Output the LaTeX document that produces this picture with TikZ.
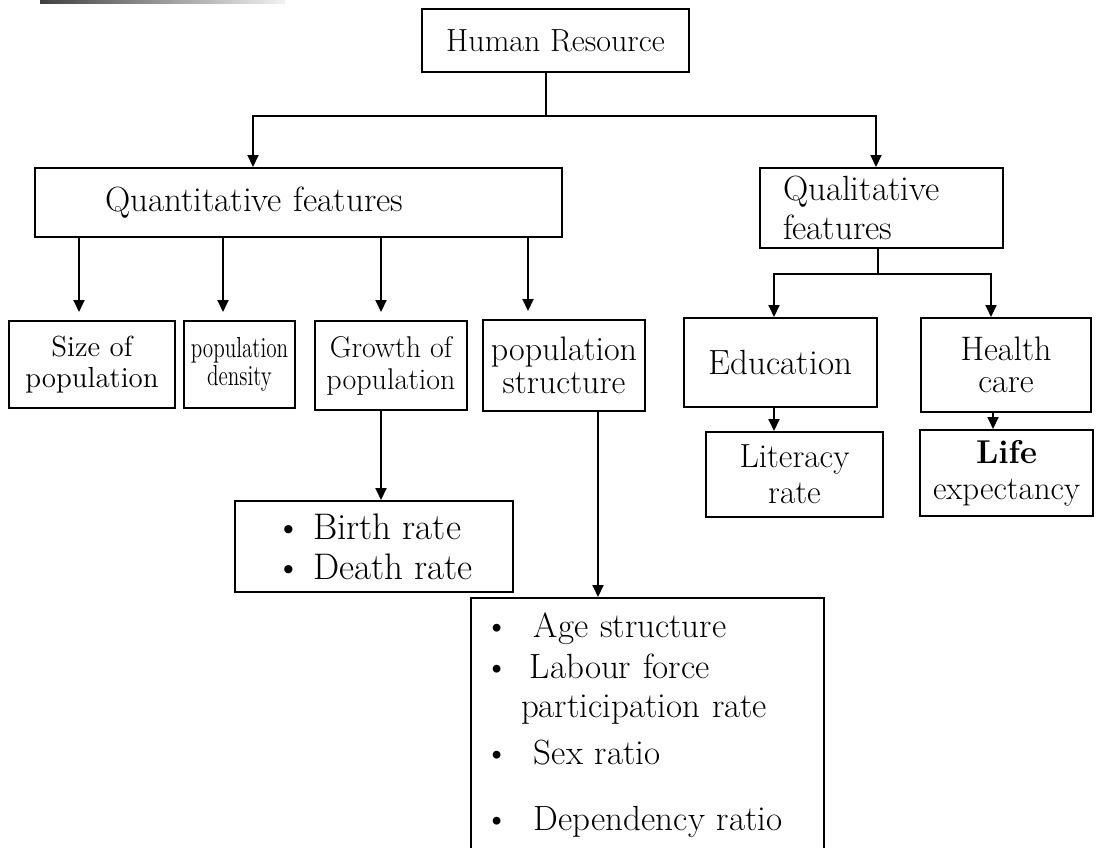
\documentclass[tikz,border=0pt]{standalone}
\usepackage{fontspec}
\usepackage{tikz}
\usetikzlibrary{arrows.meta}

\newcommand{\slim}[1]{\scalebox{0.73}[1]{#1}}

\begin{document}
\begin{tikzpicture}[x=0.5pt, y=-0.5pt,
    box/.style={rectangle, draw, line width=1pt, align=center, inner xsep=2pt, inner ysep=2pt},
    bigfont/.style={font=\fontsize{17.5pt}{19.5pt}\selectfont},
    arr/.style={-{Triangle[length=6pt, width=5.5pt]}, line width=1pt},
    link/.style={line width=1pt}]
    \useasboundingbox (0,0) rectangle (1098,847);
    \shade[left color=black!75, right color=black!5] (40,0) rectangle (285,3);

    % top and the two feature groups
    \node[box, font=\fontsize{16pt}{18pt}\selectfont, minimum width=133.5pt, minimum height=31.5pt] (hr) at (555.5,40.5) {Human Resource};
    \node[box, bigfont, text width=193.5pt, inner xsep=35pt, align=left, minimum height=34.5pt] (quant) at (298.5,202.5) {Quantitative features};
    \node[box, bigfont, text width=98.5pt, inner xsep=11.5pt, align=left, minimum height=40pt] (qual) at (881.5,208) {Qualitative\\features};

    % quantitative row
    \node[box, font=\fontsize{14.5pt}{15.5pt}\selectfont, minimum width=83pt, minimum height=43.5pt] (size) at (92,364.5) {Size of\\population};
    \node[box, font=\fontsize{14.5pt}{14pt}\selectfont, inner xsep=0.5pt, minimum width=55.5pt, minimum height=43.5pt] (dens) at (239.5,364.5) {\slim{population}\\\slim{density}};
    \node[box, font=\fontsize{15pt}{16pt}\selectfont, minimum width=76pt, minimum height=44.5pt] (grow) at (391,365.5) {Growth of\\population};
    \node[box, font=\fontsize{17pt}{16.5pt}\selectfont, inner xsep=0.5pt, minimum width=81pt, minimum height=45.5pt] (pstruct) at (564,365.5) {population\\structure};
    \node[box, font=\fontsize{18.5pt}{20pt}\selectfont, align=left, minimum width=139pt, minimum height=45.5pt] (birth) at (374,546.5) {\textbullet\ Birth rate\\\textbullet\ Death rate};
    \node[box, bigfont, anchor=north west, text width=163.5pt, inner xsep=6.5pt, inner ysep=7.5pt, align=left] (list) at (470,597) {%
        \makebox[25pt][l]{\textbullet}Age structure\\[1pt]
        \makebox[23pt][l]{\textbullet}Labour force\\
        \hspace*{18.5pt}participation rate\\[4pt]
        \makebox[25pt][l]{\textbullet}Sex ratio\\[13.5pt]
        \makebox[25pt][l]{\textbullet}Dependency ratio\\[10pt]\mbox{}};

    % qualitative row
    \node[box, bigfont, minimum width=96.5pt, minimum height=44.5pt] (edu) at (780.5,362.5) {Education};
    \node[box, font=\fontsize{17pt}{16pt}\selectfont, minimum width=85pt, minimum height=47pt] (health) at (1006,365) {Health\\care};
    \node[box, font=\fontsize{16.7pt}{18pt}\selectfont, minimum width=88.5pt, minimum height=42.5pt] (lit) at (794.5,474.5) {Literacy\\rate};
    \node[box, font=\fontsize{16.5pt}{18pt}\selectfont, inner xsep=1pt, minimum width=86.5pt, minimum height=43pt] (life) at (1006.5,473) {\textbf{Life}\\expectancy};

    % connectors from the top
    \coordinate (hrbus) at (546,116);
    \coordinate (qnbend) at (253,116);
    \coordinate (qlbend) at (876,116);
    \draw[link] (hrbus |- hr.south) -- (hrbus);
    \draw[arr] (hrbus) -- (qnbend) -- (qnbend |- quant.north);
    \draw[arr] (hrbus) -- (qlbend) -- (qlbend |- qual.north);

    % quantitative drops
    \draw[arr, shorten >=4pt] (79,0 |- quant.south) -- (79,0 |- size.north);
    \draw[arr, shorten >=4pt] (223,0 |- quant.south) -- (223,0 |- dens.north);
    \draw[arr, shorten >=4pt] (381,0 |- quant.south) -- (381,0 |- grow.north);
    \draw[arr, shorten >=4pt] (528,0 |- quant.south) -- (528,0 |- pstruct.north);
    \draw[arr] (381,0 |- grow.south) -- (381,0 |- birth.north);
    \draw[arr] (598,0 |- pstruct.south) -- (598,0 |- list.north);

    % qualitative drops
    \coordinate (qlbus) at (878,274);
    \draw[link] (qlbus |- qual.south) -- (qlbus);
    \draw[arr] (qlbus) -| (774,0 |- edu.north);
    \draw[arr] (qlbus) -| (991,0 |- health.north);
    \draw[arr] (774,0 |- edu.south) -- (774,0 |- lit.north);
    \draw[arr] (993,0 |- health.south) -- (993,0 |- life.north);
\end{tikzpicture}
\end{document}
